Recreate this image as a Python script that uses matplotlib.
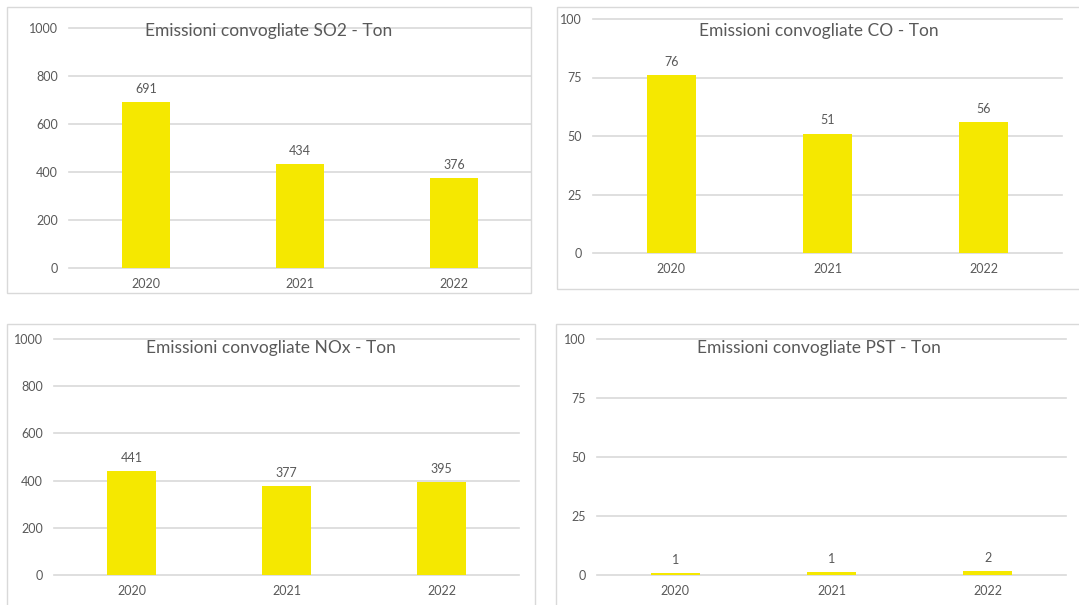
import matplotlib
matplotlib.use('Agg')
import matplotlib.pyplot as plt
from matplotlib.patches import Rectangle

plt.rcParams['font.family'] = ['Lato', 'DejaVu Sans']

# dati (tonnellate)
anni = ['2020', '2021', '2022']
so2 = [691, 434, 376]
co = [76, 51, 56]
nox = [441, 377, 395]
pst = [0.9, 1.3, 1.8]

titoli = ['Emissioni convogliate SO2 - Ton',
          'Emissioni convogliate CO - Ton',
          'Emissioni convogliate NOx - Ton',
          'Emissioni convogliate PST - Ton']
tick_1000 = [0, 200, 400, 600, 800, 1000]
tick_100 = [0, 25, 50, 75, 100]

W, H = 1079, 605
GRIGIO = '#595959'
GRIGIO_CHIARO = '#D9D9D9'
GIALLO = '#F5E800'

fig = plt.figure(figsize=(W / 100, H / 100), dpi=100)


def riquadro(x0, y0, x1, y1):
    fig.add_artist(Rectangle((x0 / W, 1 - y1 / H), (x1 - x0) / W, (y1 - y0) / H,
                             transform=fig.transFigure, fill=False,
                             ec=GRIGIO_CHIARO, lw=1.0))


def grafico(l, t, r, b, valori, ticks, titolo, tx, ty):
    ax = fig.add_axes([l / W, 1 - b / H, (r - l) / W, (b - t) / H])
    x = range(len(anni))
    ax.bar(x, valori, width=0.315, color=GIALLO, zorder=2)
    for xi, v in zip(x, valori):
        ax.annotate(f'{v:.0f}', xy=(xi, v), xytext=(0, 9.5), textcoords='offset points',
                    ha='center', va='center', fontsize=9, color=GRIGIO)
    ax.set_xlim(-0.5, len(anni) - 0.5)
    ax.set_ylim(ticks[0], ticks[-1])
    ax.set_xticks(list(x))
    ax.set_xticklabels(anni)
    ax.set_yticks(ticks)
    ax.tick_params(length=0, labelsize=9, colors=GRIGIO)
    ax.tick_params(axis='y', pad=8)
    ax.tick_params(axis='x', pad=7.5)
    for s in ax.spines.values():
        s.set_visible(False)
    ax.set_axisbelow(True)
    ax.grid(axis='y', color=GRIGIO_CHIARO, lw=1.2)
    for g in ax.get_ygridlines():
        g.set_clip_on(False)
    fig.text(tx / W, 1 - ty / H, titolo, ha='center', va='center',
             fontsize=12.5, color=GRIGIO)
    return ax


riquadro(7, 7, 531, 293)
riquadro(557, 7, 1090, 289)
riquadro(7, 324, 535, 620)
riquadro(556, 324, 1090, 620)

grafico(69, 28, 531, 268, so2, tick_1000, titoli[0], 269, 31)
grafico(593, 19, 1062, 253, co, tick_100, titoli[1], 819, 31)
grafico(54, 339, 519, 575, nox, tick_1000, titoli[2], 271, 348)
grafico(597, 339, 1066, 575, pst, tick_100, titoli[3], 819, 348)

fig.savefig('out.png', dpi=100, facecolor='white')
